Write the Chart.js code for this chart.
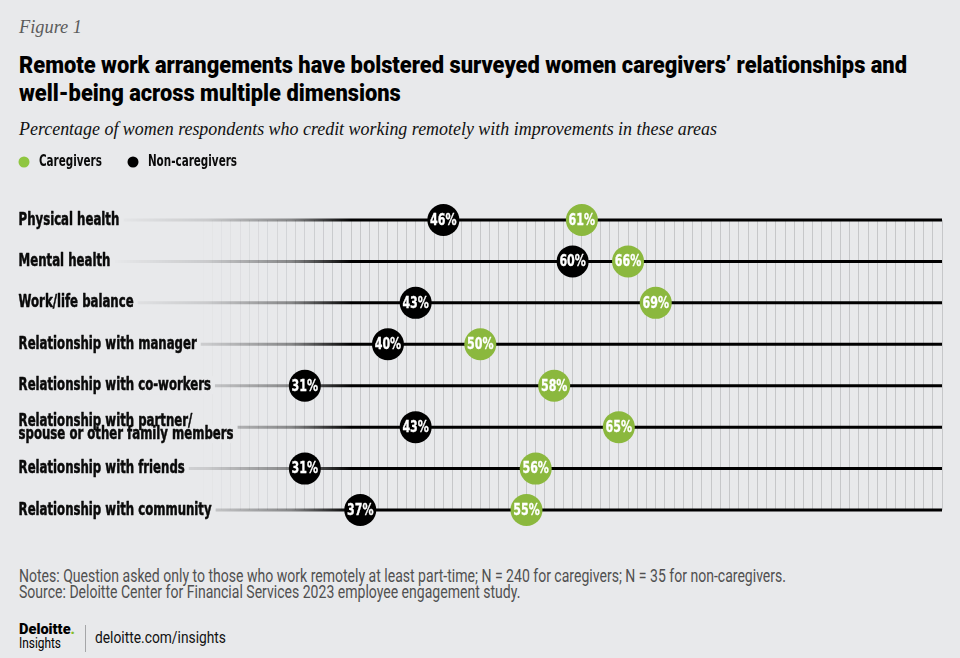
<!DOCTYPE html>
<html>
<head>
<meta charset="utf-8">
<script src="https://cdn.jsdelivr.net/npm/chart.js@4.4.1/dist/chart.umd.min.js"></script>
<style>
  html, body { margin: 0; padding: 0; background: #e8e9eb; }
  body { width: 960px; height: 658px; position: relative; overflow: hidden; }
  .t { position: absolute; white-space: nowrap; transform-origin: 0 0; line-height: 1; }
  .probe { display: inline-block; width: 0; height: 0; vertical-align: baseline; }
  #wrap { position: absolute; left: 0; top: 140px; width: 960px; height: 400px; }
  #divider { position: absolute; left: 85px; top: 625px; width: 1px; height: 27px; background: #a5a6a8; }
</style>
</head>
<body>
<div id="wrap"><canvas id="c"></canvas></div>
<div id="divider"></div>
<script>
// ---------- data ----------
const categories = [
  ["Physical health"],
  ["Mental health"],
  ["Work/life balance"],
  ["Relationship with manager"],
  ["Relationship with co-workers"],
  ["Relationship with partner/", "spouse or other family members"],
  ["Relationship with friends"],
  ["Relationship with community"]
];
const caregivers    = [61, 66, 69, 50, 58, 65, 56, 55];
const nonCaregivers = [46, 60, 43, 40, 31, 43, 31, 37];
const seriesNames = ["Caregivers", "Non-caregivers"];
const axisMin = 0, axisMax = 100, axisStep = 1;

// ---------- styles ----------
const COND = "'DejaVu Sans Condensed','Liberation Sans Narrow',Roboto,sans-serif";
const SERIF = "'Liberation Serif','DejaVu Serif',serif";
const GREEN = '#8bb83e';
const LEGEND_GREEN = '#8fc640';
const BG = '#e8e9eb';

// ---------- HTML text placement (by baseline) ----------
function place(html, font, color, x, baseline, width, scale) {
  const d = document.createElement('div');
  d.className = 't';
  d.style.font = font;
  d.style.color = color;
  d.style.left = x + 'px';
  d.style.top = '0px';
  d.innerHTML = '<span class="txt">' + html + '</span><span class="probe"></span>';
  document.body.appendChild(d);
  const b = d.lastChild.offsetTop;
  d.style.top = (baseline - b) + 'px';
  let s = scale || 1;
  if (width) {
    const w = d.firstChild.getBoundingClientRect().width;
    s = width / w;
  }
  d.style.transform = 'scaleX(' + s + ')';
  return s;
}

function buildText() {
  place('Figure 1', 'italic 19px ' + SERIF, '#5b5b5b', 19, 33.3, 63);
  const ts = place('Remote work arrangements have bolstered surveyed women caregivers’ relationships and',
        '900 24.5px Roboto', '#000', 19, 72.8, 888);
  place('well-being across multiple dimensions', '900 24.5px Roboto', '#000', 19, 100.8, null, ts);
  place('Percentage of women respondents who credit working remotely with improvements in these areas',
        'italic 18.5px ' + SERIF, '#111', 19, 135, 698);
  const ns = place('Notes: Question asked only to those who work remotely at least part-time; N = 240 for caregivers; N = 35 for non-caregivers.',
        '17.5px Roboto', '#505050', 19, 582, 767);
  place('Source: Deloitte Center for Financial Services 2023 employee engagement study.',
        '17.5px Roboto', '#505050', 19, 598, null, ns);
  place('Deloitte<span style="color:#86bc25">.</span>', '900 15.5px Roboto', '#000', 19, 634, 56);
  place('Insights', '14.5px Roboto', '#000', 19, 648, 42);
  place('deloitte.com/insights', '17px Roboto', '#111', 95, 643.3, 131);
}

// ---------- chart plugins ----------
function heavyText(ctx, txt, x, y, sx, color, stroke) {
  ctx.save();
  ctx.translate(x, y);
  ctx.scale(sx, 1);
  ctx.fillStyle = color;
  ctx.fillText(txt, 0, 0);
  if (stroke) {
    ctx.strokeStyle = color;
    ctx.lineWidth = stroke;
    ctx.lineJoin = 'round';
    ctx.strokeText(txt, 0, 0);
  }
  ctx.restore();
}

const rowsPlugin = {
  id: 'rows',
  beforeDatasetsDraw(chart) {
    const { ctx, scales: { x, y } } = chart;
    ctx.save();
    categories.forEach((c, i) => {
      const py = y.getPixelForValue(i);
      const x0 = x.getPixelForValue(10), x1 = x.getPixelForValue(36);
      const g = ctx.createLinearGradient(x0, 0, x1, 0);
      g.addColorStop(0, 'rgba(0,0,0,0)');
      g.addColorStop(0.4, 'rgba(0,0,0,0.13)');
      g.addColorStop(0.75, 'rgba(0,0,0,0.42)');
      g.addColorStop(1, 'rgba(0,0,0,1)');
      ctx.strokeStyle = g;
      ctx.lineWidth = 3;
      ctx.beginPath();
      ctx.moveTo(x0, py);
      ctx.lineTo(x.getPixelForValue(axisMax), py);
      ctx.stroke();
    });
    ctx.font = 'bold 17px ' + COND;
    const sx = 193 / ctx.measureText('Relationship with community').width;
    ctx.textBaseline = 'alphabetic';
    ctx.textAlign = 'left';
    categories.forEach((lines, i) => {
      const py = y.getPixelForValue(i);
      const base = lines.length === 1 ? [py + 4.5] : [py - 1.4, py + 11.8];
      lines.forEach((txt, k) => {
        const w = ctx.measureText(txt).width * sx;
        ctx.fillStyle = BG;
        ctx.fillRect(x.left - 2, base[k] - 14, w + 6, 18);
      });
      lines.forEach((txt, k) => heavyText(ctx, txt, x.left, base[k], sx, '#0a0a0a', 0.5));
    });
    ctx.restore();
  },
  afterDatasetsDraw(chart) {
    const { ctx } = chart;
    ctx.save();
    ctx.font = 'bold 15px ' + COND;
    const sx = 26.5 / ctx.measureText('46%').width;
    ctx.textBaseline = 'middle';
    ctx.textAlign = 'center';
    chart.data.datasets.forEach((ds, di) => {
      const meta = chart.getDatasetMeta(di);
      meta.data.forEach((pt, i) => {
        heavyText(ctx, ds.data[i].x + '%', pt.x, pt.y + 1, sx, '#fff', 0.3);
      });
    });
    ctx.restore();
  }
};

// legend: condensed horizontally to match the reference lettering
const LEG_FONT = 16.5;
let legSx = 1;
const legendLayoutPlugin = {
  id: 'legendLayout',
  beforeLayout(chart) {
    const lg = chart.legend;
    if (lg && !lg._patched) {
      const fit = lg.fit;
      lg.fit = function () { fit.call(this); this.height = 80; };
      const draw = lg.draw;
      lg.draw = function (area) {
        const c = this.ctx;
        c.save();
        c.scale(legSx, 1);
        draw.call(this, area);
        c.restore();
      };
      lg._patched = true;
    }
  },
  afterLayout(chart) {
    const lg = chart.legend;
    const o = chart.options.plugins.legend.labels;
    lg.left = 24 / legSx - o.padding - o.pointStyleWidth / 2;
    lg.top = 22 - o.padding - LEG_FONT / 2;
  }
};

function start() {
  buildText();
  const mc = document.createElement('canvas').getContext('2d');
  mc.font = 'bold ' + LEG_FONT + 'px ' + COND;
  legSx = 63 / mc.measureText('Caregivers').width;
  const boxW = 11 / legSx;
  const firstTextW = mc.measureText(' ' + seriesNames[0]).width;
  const pad = 109 / legSx - boxW - LEG_FONT / 2 - firstTextW;

  const ctxC = document.getElementById('c');
  new Chart(ctxC, {
    type: 'scatter',
    data: {
      datasets: [
        {
          label: seriesNames[0],
          data: caregivers.map((v, i) => ({ x: v, y: i })),
          backgroundColor: GREEN,
          pointBackgroundColor: GREEN,
          borderWidth: 0,
          pointRadius: 16,
          pointHoverRadius: 16,
          clip: false
        },
        {
          label: seriesNames[1],
          data: nonCaregivers.map((v, i) => ({ x: v, y: i })),
          backgroundColor: '#000',
          pointBackgroundColor: '#000',
          borderWidth: 0,
          pointRadius: 16,
          pointHoverRadius: 16,
          clip: false
        }
      ]
    },
    options: {
      responsive: true,
      maintainAspectRatio: false,
      animation: false,
      events: [],
      layout: { padding: { left: 18.6, right: 18, top: 0, bottom: 30 } },
      scales: {
        x: {
          type: 'linear',
          min: axisMin, max: axisMax,
          ticks: { stepSize: axisStep, display: false, autoSkip: false },
          border: { display: false },
          grid: {
            drawTicks: false,
            lineWidth: 1,
            color: (c) => {
              const v = c.tick ? c.tick.value : 0;
              const a = Math.max(0, Math.min(1, (v - 19) / (36 - 19)));
              return 'rgba(150,152,156,' + (0.42 * a).toFixed(3) + ')';
            }
          }
        },
        y: {
          type: 'linear',
          min: 0, max: categories.length - 1,
          reverse: true,
          display: false
        }
      },
      plugins: {
        tooltip: { enabled: false },
        legend: {
          display: true,
          position: 'top',
          align: 'start',
          labels: {
            usePointStyle: true,
            pointStyle: 'circle',
            pointStyleWidth: boxW,
            boxWidth: boxW,
            boxHeight: 7.8,
            padding: pad,
            color: '#0a0a0a',
            font: { family: COND, weight: 'bold', size: LEG_FONT },
            generateLabels: (chart) => chart.data.datasets.map((ds, i) => ({
              text: ' ' + ds.label,
              fillStyle: i === 0 ? LEGEND_GREEN : '#000',
              strokeStyle: 'rgba(0,0,0,0)',
              lineWidth: 0,
              pointStyle: 'circle',
              fontColor: '#0a0a0a',
              hidden: false,
              datasetIndex: i
            }))
          }
        }
      }
    },
    plugins: [rowsPlugin, legendLayoutPlugin]
  });
}

if (document.fonts && document.fonts.ready) {
  document.fonts.ready.then(start);
} else {
  start();
}
</script>
</body>
</html>
